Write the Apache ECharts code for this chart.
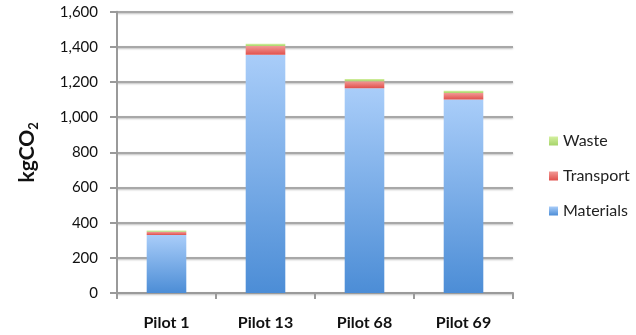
<!DOCTYPE html>
<html>
<head>
<meta charset="utf-8">
<script src="https://cdn.jsdelivr.net/npm/echarts@6/dist/echarts.min.js"></script>
<style>
  html, body { margin: 0; padding: 0; background: #fff; }
  #chart { width: 636px; height: 335px; }
</style>
</head>
<body>
<div id="chart"></div>
<script>
// Emissions per pilot site, stacked by source (kgCO2)
const categories = ['Pilot 1', 'Pilot 13', 'Pilot 68', 'Pilot 69'];
const materials = [330, 1355, 1165, 1100];
const transport = [18, 50, 40, 38];
const waste = [7, 12, 12, 12];

const FONT = 'Lato, "Open Sans", sans-serif';

function vgrad(top, bottom) {
  return new echarts.graphic.LinearGradient(0, 0, 0, 1, [
    { offset: 0, color: top },
    { offset: 1, color: bottom }
  ]);
}

const chart = echarts.init(document.getElementById('chart'), null, { renderer: 'canvas' });

chart.setOption({
  animation: false,
  grid: { left: 117, right: 123, top: 11.7, bottom: 42 },
  legend: {
    orient: 'vertical',
    left: 544,
    top: 128,
    itemWidth: 9,
    itemHeight: 9,
    itemGap: 19,
    icon: 'rect',
    textStyle: { fontFamily: FONT, fontSize: 16, color: '#222' },
    data: ['Waste', 'Transport', 'Materials']
  },
  xAxis: {
    type: 'category',
    data: categories,
    axisLine: { lineStyle: { color: '#9a9a9a', width: 2 } },
    axisTick: { show: true, length: 6, lineStyle: { color: '#9a9a9a', width: 2 } },
    axisLabel: { fontFamily: FONT, fontWeight: 'bold', fontSize: 16, color: '#111', margin: 22 }
  },
  yAxis: {
    type: 'value',
    min: 0,
    max: 1600,
    interval: 200,
    name: '{a|kgCO}{b|2}',
    nameLocation: 'middle',
    nameGap: 77,
    nameRotate: 90,
    nameTextStyle: {
      rich: {
        a: { fontFamily: FONT, fontWeight: 'bold', fontSize: 21, color: '#111' },
        b: { fontFamily: FONT, fontWeight: 'bold', fontSize: 13, color: '#111', padding: [12, 0, 0, 0] }
      }
    },
    axisLine: { show: true, lineStyle: { color: '#9a9a9a', width: 2 } },
    axisTick: { show: true, length: 7, lineStyle: { color: '#9a9a9a', width: 2 } },
    splitLine: {
      lineStyle: { color: '#a8a8a8', width: 2, shadowColor: 'rgba(0,0,0,0.25)', shadowBlur: 2, shadowOffsetY: 1 }
    },
    axisLabel: {
      fontFamily: FONT,
      fontSize: 15,
      color: '#111',
      margin: 19,
      formatter: v => v.toLocaleString('en-US')
    }
  },
  series: [
    {
      name: 'Materials',
      type: 'bar',
      stack: 'total',
      barWidth: '40%',
      data: materials,
      itemStyle: { color: vgrad('#a9cdf9', '#4c8dd6') }
    },
    {
      name: 'Transport',
      type: 'bar',
      stack: 'total',
      data: transport,
      itemStyle: { color: vgrad('#f29a96', '#e0504c') }
    },
    {
      name: 'Waste',
      type: 'bar',
      stack: 'total',
      data: waste,
      itemStyle: { color: vgrad('#d4f0a0', '#a6d46a') }
    }
  ]
});
</script>
</body>
</html>
